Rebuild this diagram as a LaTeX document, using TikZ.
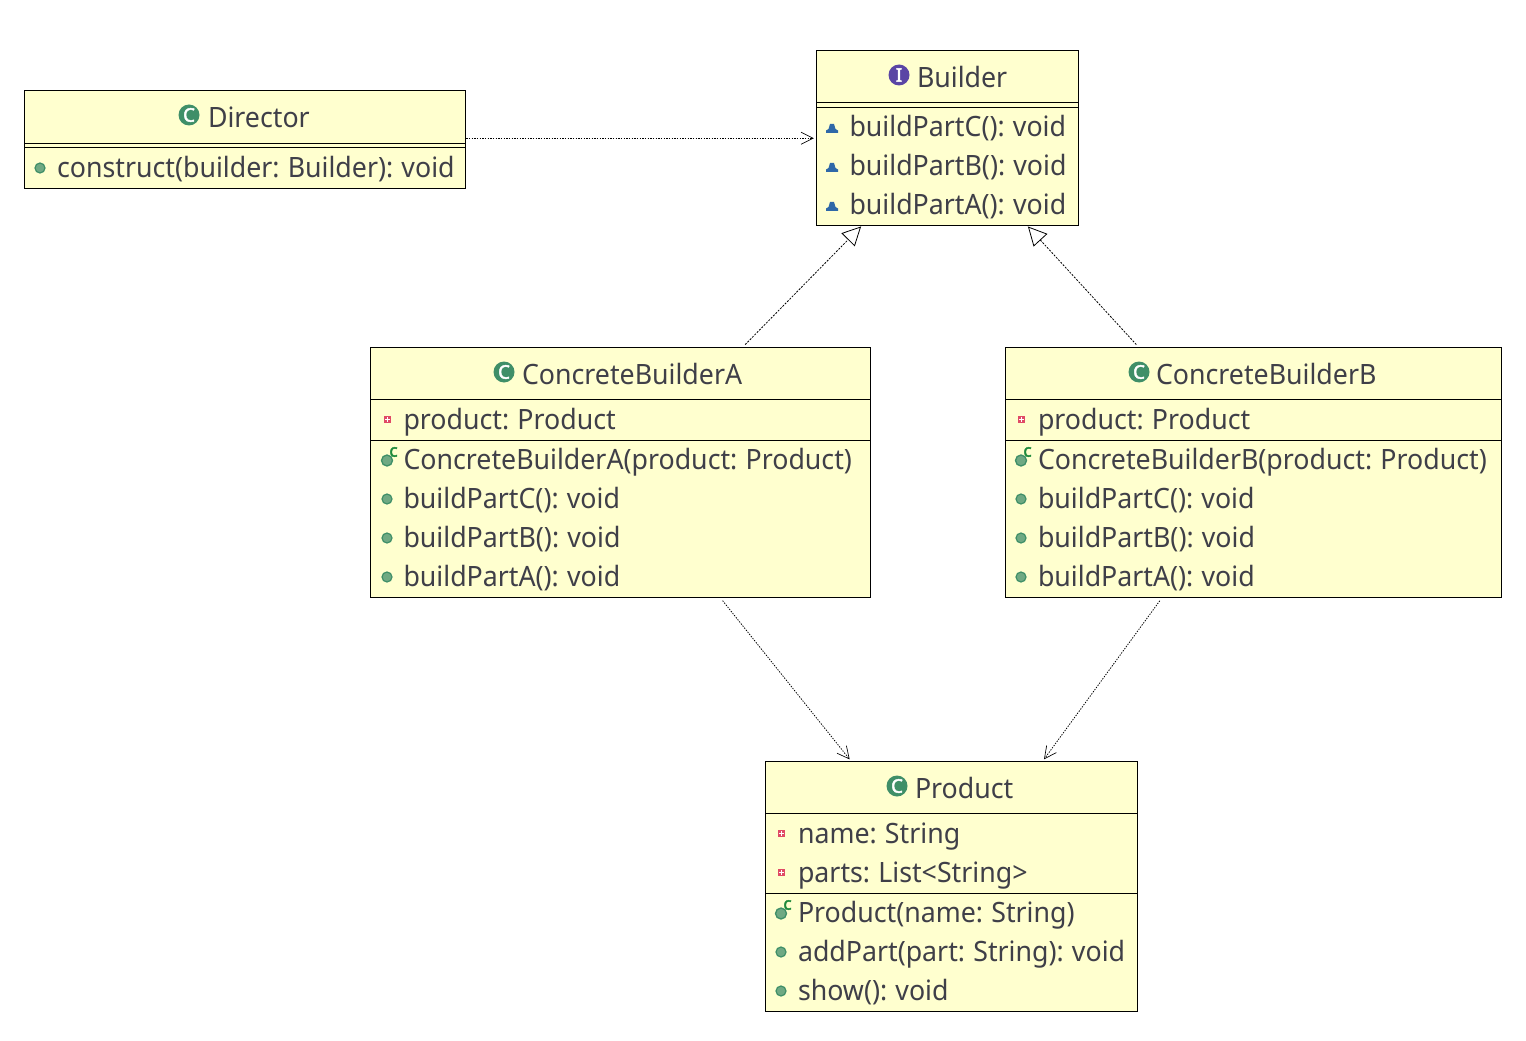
\documentclass[tikz,border=0pt]{standalone}
\usepackage{fontspec}
\setmainfont[FakeStretch=0.955,WordSpace=0.85]{Noto Sans}
\newfontfamily\iconfont[FakeBold=2.5]{Noto Sans}
\usetikzlibrary{arrows.meta}
\definecolor{boxfill}{HTML}{FFFFCF}
\definecolor{txt}{HTML}{3F3F48}
\definecolor{cgreen}{HTML}{3F8F68}
\definecolor{dotgreen}{HTML}{6FA983}
\definecolor{dotedge}{HTML}{3F8F68}
\definecolor{ifacep}{HTML}{5A45A5}
\definecolor{tri}{HTML}{2F68A8}
\definecolor{priv}{HTML}{E04A66}
\definecolor{ctorc}{HTML}{1E8A3C}
\tikzset{
  x=0.75pt,y=-0.75pt,
  classbox/.style={draw=black,fill=boxfill,line width=0.75pt,rectangle,inner sep=0pt,outer sep=0pt,minimum width=#1},
  divider/.style={draw=black,line width=0.75pt},
  label/.style={anchor=base west,inner sep=0pt,outer sep=0pt,text=txt,yshift=-0.75pt,font=\fontsize{21}{24}\selectfont},
  labeltwo/.style={label,yshift=0.75pt},
  tag/.style={anchor=center,inner sep=0pt,outer sep=0pt,font=\iconfont\fontsize{11}{11}\selectfont},
  dep/.style={draw=black,line width=0.6pt,dash pattern=on 1pt off 1pt,shorten <=3pt,shorten >=2pt,-{Straight Barb[length=9pt,width=9pt,line width=0.5pt]}},
  real/.style={draw=black,line width=0.6pt,dash pattern=on 1.5pt off 1pt,shorten <=3pt,shorten >=1pt,-{Triangle[open,length=14pt,width=14pt,line width=0.6pt,fill=white]}},
}
\newcommand{\boxat}[5]{\node[classbox=#4*0.75pt,minimum height=#5*0.75pt] (#1) at (#2,#3) {};}
\newcommand{\pubdot}[2]{\fill[dotgreen,draw=dotedge,line width=0.9pt] (#1,#2) circle[radius=5];}
\newcommand{\privdot}[2]{\fill[priv] (#1-3.5,#2-3.5) rectangle (#1+3.5,#2+3.5);\fill[white] (#1-2.2,#2-0.6) rectangle (#1+2.2,#2+0.6);\fill[white] (#1-0.6,#2-2.2) rectangle (#1+0.6,#2+2.2);}
\newcommand{\tridot}[2]{\fill[tri] (#1-6,#2+5) -- (#1-6,#2+2.5) -- (#1-3.5,#2+1) -- (#1-2,#2-4) -- (#1+2,#2-4) -- (#1+3.5,#2+1) -- (#1+6,#2+2.5) -- (#1+6,#2+5) -- cycle;}
\newcommand{\ctordot}[3]{\fill[dotgreen,draw=dotedge,line width=1pt] (#2-1,#3+1.5) circle[radius=5.5];
  \node[tag,text=ctorc,font=\iconfont\fontsize{13}{13}\selectfont] (#1) at (#2+5.5,#3-7) {c};}
\newcommand{\classicon}[5]{\fill[#4] (#2,#3) circle[radius=10.5];\node[tag,text=white,font=\iconfont\fontsize{14}{14}\selectfont] (#1) at (#2,#3) {#5};}
\begin{document}
\begin{tikzpicture}
\useasboundingbox (0,0) rectangle (1526,1041);
\fill[white] (0,0) rectangle (1526,1041);
% boxes
\boxat{director}{245}{139.75}{441}{97.5}
\boxat{builder}{947.25}{138.25}{261.5}{174.5}
\boxat{cbA}{620.25}{472.5}{499.5}{250}
\boxat{cbB}{1253.25}{472.5}{495.5}{250}
\boxat{product}{951.25}{886.5}{371.5}{250}
% dividers
\draw[divider] (director.west |- 0,143.5) -- (director.east |- 0,143.5);
\draw[divider] (director.west |- 0,148) -- (director.east |- 0,148);
\draw[divider] (builder.west |- 0,102.5) -- (builder.east |- 0,102.5);
\draw[divider] (builder.west |- 0,107.5) -- (builder.east |- 0,107.5);
\draw[divider] (cbA.west |- 0,399.5) -- (cbA.east |- 0,399.5);
\draw[divider] (cbA.west |- 0,440.5) -- (cbA.east |- 0,440.5);
\draw[divider] (cbB.west |- 0,399.5) -- (cbB.east |- 0,399.5);
\draw[divider] (cbB.west |- 0,440.5) -- (cbB.east |- 0,440.5);
\draw[divider] (product.west |- 0,813.5) -- (product.east |- 0,813.5);
\draw[divider] (product.west |- 0,893.5) -- (product.east |- 0,893.5);
% connectors
\draw[dep,shorten <=0.5pt] (director.east |- builder.center) -- (builder);
\draw[real] (cbA) -- (builder);
\draw[real] (cbB) -- (builder);
\draw[dep] (cbA) -- (product);
\draw[dep] (cbB) -- (product);
% Director
\classicon{iDir}{189}{115}{cgreen}{C}
\node[label] (tDir) at (208,127) {Director};
\pubdot{40}{168}
\node[label] (tDir1) at (57,177) {construct(builder: Builder): void};
% Builder
\classicon{iBui}{899}{75}{ifacep}{I}
\node[label] (tBui) at (917,87) {Builder};
\tridot{832}{128}
\node[label] (tBui1) at (849.5,136) {buildPartC(): void};
\tridot{832}{167}
\node[label] (tBui2) at (849.5,175) {buildPartB(): void};
\tridot{832}{206}
\node[label] (tBui3) at (849.5,213.5) {buildPartA(): void};
% ConcreteBuilderA
\classicon{iA}{504}{372}{cgreen}{C}
\node[labeltwo] (tA) at (522,384) {ConcreteBuilderA};
\privdot{387.5}{419.5}
\node[labeltwo] (tA1) at (403.5,429) {product: Product};
\ctordot{cA}{388}{459}
\node[labeltwo] (tA2) at (403.5,469) {ConcreteBuilderA(product: Product)};
\pubdot{387}{499}
\node[labeltwo] (tA3) at (403.5,508) {buildPartC(): void};
\pubdot{387}{538}
\node[labeltwo] (tA4) at (403.5,547) {buildPartB(): void};
\pubdot{387}{577}
\node[labeltwo] (tA5) at (403.5,586) {buildPartA(): void};
% ConcreteBuilderB
\classicon{iB}{1139}{372}{cgreen}{C}
\node[labeltwo] (tB) at (1156,384) {ConcreteBuilderB};
\privdot{1021.5}{419.5}
\node[labeltwo] (tB1) at (1038,429) {product: Product};
\ctordot{cB}{1022}{459}
\node[labeltwo] (tB2) at (1038,469) {ConcreteBuilderB(product: Product)};
\pubdot{1021}{499}
\node[labeltwo] (tB3) at (1038,508) {buildPartC(): void};
\pubdot{1021}{538}
\node[labeltwo] (tB4) at (1038,547) {buildPartB(): void};
\pubdot{1021}{577}
\node[labeltwo] (tB5) at (1038,586) {buildPartA(): void};
% Product
\classicon{iP}{897}{786}{cgreen}{C}
\node[labeltwo] (tP) at (915,798) {Product};
\privdot{781.5}{833.5}
\node[labeltwo] (tP1) at (798,843) {name: String};
\privdot{781.5}{872.5}
\node[labeltwo] (tP2) at (798,882) {parts: List<String>};
\ctordot{cP}{782}{912}
\node[labeltwo] (tP3) at (798,922) {Product(name: String)};
\pubdot{781}{952}
\node[labeltwo] (tP4) at (798,961) {addPart(part: String): void};
\pubdot{781}{991}
\node[labeltwo] (tP5) at (798,1000) {show(): void};
\end{tikzpicture}
\end{document}
